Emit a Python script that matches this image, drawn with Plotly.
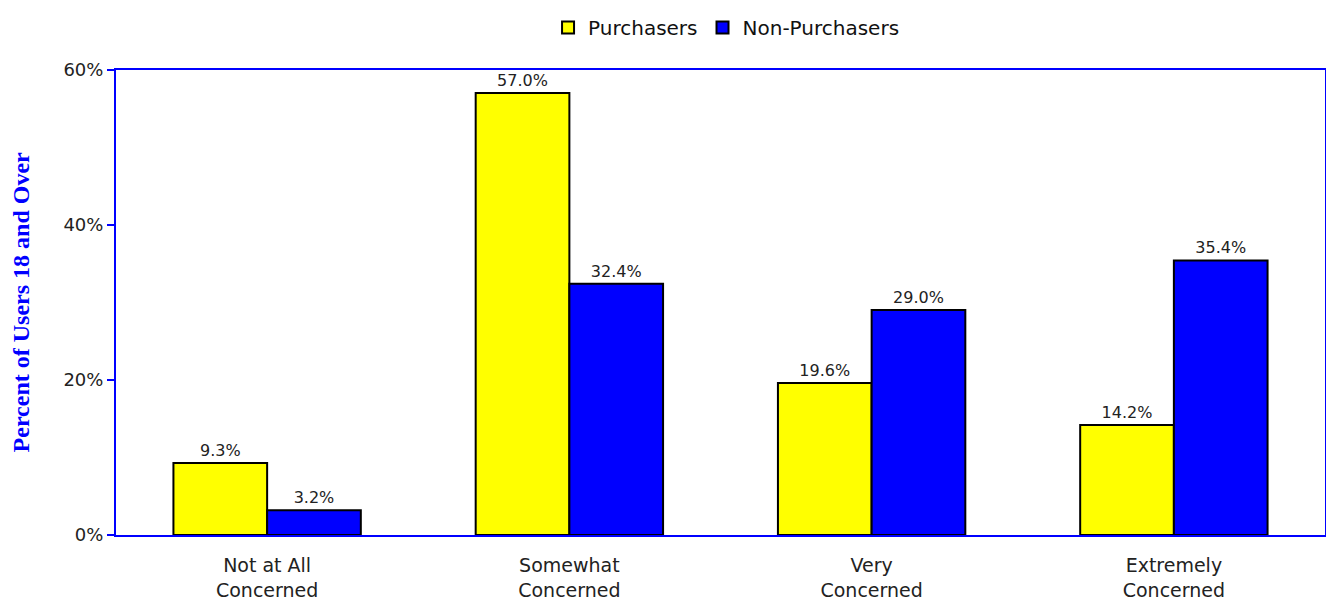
import plotly.graph_objects as go

categories = ["Not at All<br>Concerned", "Somewhat<br>Concerned", "Very<br>Concerned", "Extremely<br>Concerned"]
purchasers = [9.3, 57.0, 19.6, 14.2]
non_purchasers = [3.2, 32.4, 29.0, 35.4]
y_ticks = [0, 20, 40, 60]
y_tick_labels = ["0%", "20%", "40%", "60%"]

font_main = "DejaVu Sans, Verdana, sans-serif"

fig = go.Figure()
fig.add_trace(go.Bar(
    name="Purchasers", x=categories, y=purchasers,
    marker=dict(color="#FFFF00", line=dict(color="black", width=2)),
    text=[f"{v:.1f}%" for v in purchasers], textposition="outside",
    textfont=dict(family=font_main, size=16, color="#222222"),
    cliponaxis=False,
))
fig.add_trace(go.Bar(
    name="Non-Purchasers", x=categories, y=non_purchasers,
    marker=dict(color="#0000FF", line=dict(color="black", width=2)),
    text=[f"{v:.1f}%" for v in non_purchasers], textposition="outside",
    textfont=dict(family=font_main, size=16, color="#222222"),
    cliponaxis=False,
))

fig.update_layout(
    width=1334, height=605,
    barmode="group", bargap=0.38, bargroupgap=0,
    plot_bgcolor="white", paper_bgcolor="white",
    margin=dict(l=105, r=17, t=61, b=74),
    font=dict(family=font_main, size=16, color="#222222"),
    legend=dict(orientation="h", x=0.505, xanchor="center",
                yref="container", y=1.0, yanchor="top",
                font=dict(size=20, color="#111111"), itemwidth=30,
                traceorder="normal", bgcolor="rgba(0,0,0,0)"),
    showlegend=True,
)
fig.update_yaxes(
    range=[0, 60], tickvals=y_ticks, ticktext=y_tick_labels,
    showgrid=False, zeroline=False,
    showline=True, linecolor="#0000FF", linewidth=2, mirror=True,
    ticks="outside", ticklen=7, tickcolor="#0000FF", tickwidth=2,
    tickfont=dict(size=18, color="#222222"),
    title=dict(text="<b>Percent of Users 18 and Over</b>",
               font=dict(family="Liberation Serif, Times New Roman, serif", size=24, color="#0000FF"),
               standoff=27),
)
fig.update_xaxes(
    showgrid=False, showline=True, linecolor="#0000FF", linewidth=2, mirror=True,
    ticks="", ticklabelstandoff=12, tickfont=dict(size=19, color="#222222"),
)

fig.write_html("out.html")
